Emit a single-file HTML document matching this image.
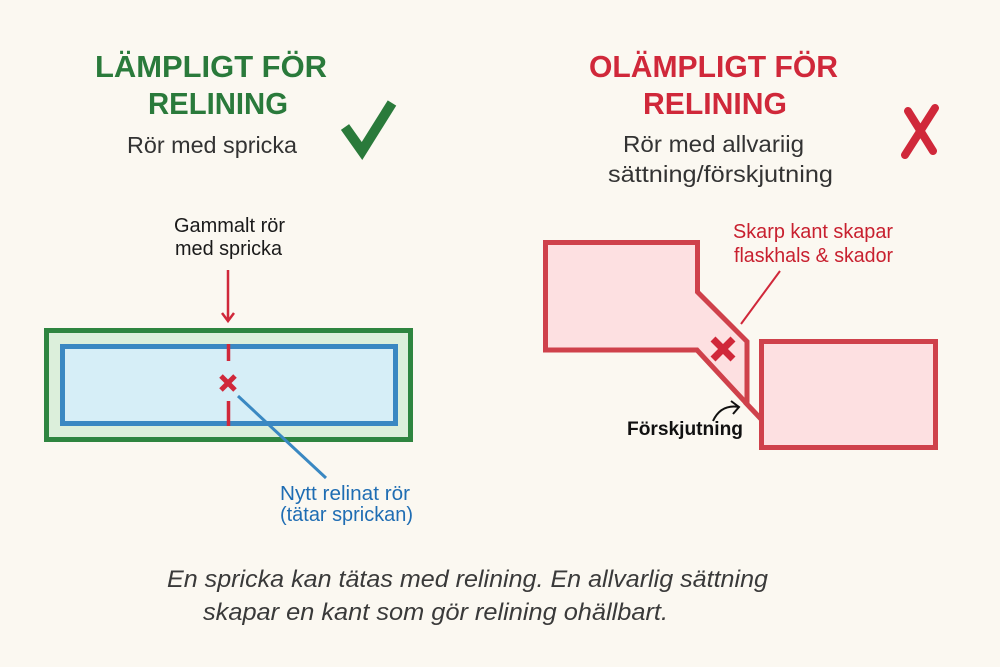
<!DOCTYPE html>
<html>
<head>
<meta charset="utf-8">
<style>
  html,body{margin:0;padding:0;background:#fbf8f1;}
  svg{display:block;}
  text{font-family:"Liberation Sans", sans-serif;}
</style>
</head>
<body>
<svg width="1000" height="667" viewBox="0 0 1000 667" xmlns="http://www.w3.org/2000/svg">
  <rect x="0" y="0" width="1000" height="667" fill="#fbf8f1"/>

  <!-- LEFT TITLES -->
  <text x="95" y="77" font-size="31" font-weight="bold" fill="#2a7a3b" textLength="232" lengthAdjust="spacingAndGlyphs">LÄMPLIGT FÖR</text>
  <text x="148" y="114" font-size="31" font-weight="bold" fill="#2a7a3b" textLength="140" lengthAdjust="spacingAndGlyphs">RELINING</text>
  <text x="127" y="153" font-size="23" fill="#333333" textLength="170" lengthAdjust="spacingAndGlyphs">Rör med spricka</text>

  <!-- checkmark -->
  <polyline points="345,127 362,151 392,103" fill="none" stroke="#2a7a3b" stroke-width="10" stroke-linejoin="miter"/>

  <!-- RIGHT TITLES -->
  <text x="589" y="77" font-size="31" font-weight="bold" fill="#d0283a" textLength="249" lengthAdjust="spacingAndGlyphs">OLÄMPLIGT FÖR</text>
  <text x="643" y="114" font-size="31" font-weight="bold" fill="#d0283a" textLength="144" lengthAdjust="spacingAndGlyphs">RELINING</text>
  <text x="623" y="152" font-size="23" fill="#333333" textLength="181" lengthAdjust="spacingAndGlyphs">Rör med allvariig</text>
  <text x="608" y="182" font-size="23" fill="#333333" textLength="225" lengthAdjust="spacingAndGlyphs">sättning/förskjutning</text>

  <!-- red X mark -->
  <line x1="908" y1="111" x2="933" y2="151" stroke="#d0283a" stroke-width="8" stroke-linecap="round"/>
  <line x1="935" y1="108" x2="905" y2="155" stroke="#d0283a" stroke-width="8" stroke-linecap="round"/>

  <!-- LEFT DIAGRAM -->
  <text x="174" y="232" font-size="20" fill="#1a1a1a" textLength="111" lengthAdjust="spacingAndGlyphs">Gammalt rör</text>
  <text x="175" y="255" font-size="20" fill="#1a1a1a" textLength="107" lengthAdjust="spacingAndGlyphs">med spricka</text>

  <line x1="228" y1="270" x2="228" y2="321" stroke="#d0283a" stroke-width="2.5"/>
  <polyline points="222,313 228,321 234,313" fill="none" stroke="#d0283a" stroke-width="2.5"/>

  <rect x="46.5" y="330.5" width="364" height="109" fill="#dcefdb" stroke="#2e8540" stroke-width="5"/>
  <rect x="62.5" y="346.5" width="333" height="77" fill="#d6eef7" stroke="#3a88c2" stroke-width="5"/>

  <line x1="228.5" y1="344" x2="228.5" y2="361" stroke="#d0283a" stroke-width="3.5"/>
  <line x1="228.5" y1="401" x2="228.5" y2="426" stroke="#d0283a" stroke-width="3.5"/>
  <line x1="221" y1="376" x2="235" y2="390" stroke="#d0283a" stroke-width="5"/>
  <line x1="235" y1="376" x2="221" y2="390" stroke="#d0283a" stroke-width="5"/>

  <line x1="238" y1="396" x2="326" y2="478" stroke="#3a88c2" stroke-width="3"/>
  <text x="280" y="500" font-size="20" fill="#1f6db3" textLength="130" lengthAdjust="spacingAndGlyphs">Nytt relinat rör</text>
  <text x="280" y="521" font-size="20" fill="#1f6db3" textLength="133" lengthAdjust="spacingAndGlyphs">(tätar sprickan)</text>

  <!-- RIGHT DIAGRAM -->
  <polygon points="545.5,242.5 697.5,242.5 697.5,292 747,341.5 747,404 697,350 545.5,350" fill="#fde0e1" stroke="#cf414b" stroke-width="5" stroke-linejoin="miter"/>
  <line x1="745" y1="402" x2="761" y2="419" stroke="#cf414b" stroke-width="5"/>
  <rect x="761.5" y="341.5" width="174" height="106" fill="#fde0e1" stroke="#cf414b" stroke-width="5"/>

  <line x1="713" y1="339" x2="733" y2="359" stroke="#d0283a" stroke-width="7"/>
  <line x1="733" y1="339" x2="713" y2="359" stroke="#d0283a" stroke-width="7"/>

  <line x1="741" y1="324" x2="780" y2="271" stroke="#d0283a" stroke-width="2"/>
  <text x="733" y="238" font-size="20" fill="#c8202f" textLength="160" lengthAdjust="spacingAndGlyphs">Skarp kant skapar</text>
  <text x="734" y="262" font-size="20" fill="#c8202f" textLength="159" lengthAdjust="spacingAndGlyphs">flaskhals &amp; skador</text>

  <path d="M713,421 Q721,404 739,407" fill="none" stroke="#111" stroke-width="2"/>
  <polyline points="731,401 739,407 733,414" fill="none" stroke="#111" stroke-width="2"/>
  <text x="627" y="435" font-size="19" font-weight="bold" fill="#111" textLength="116" lengthAdjust="spacingAndGlyphs">Förskjutning</text>

  <!-- CAPTION -->
  <text x="167" y="587" font-size="24" font-style="italic" fill="#3a3a3a" textLength="601" lengthAdjust="spacingAndGlyphs">En spricka kan tätas med relining. En allvarlig sättning</text>
  <text x="203" y="620" font-size="24" font-style="italic" fill="#3a3a3a" textLength="465" lengthAdjust="spacingAndGlyphs">skapar en kant som gör relining ohällbart.</text>
</svg>
</body>
</html>
